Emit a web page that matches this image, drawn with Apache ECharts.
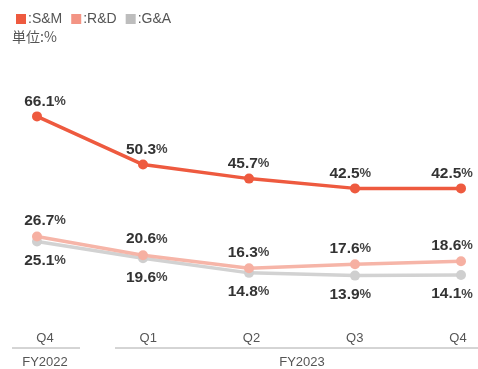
<!DOCTYPE html>
<html>
<head>
<meta charset="utf-8">
<script src="https://cdn.jsdelivr.net/npm/echarts@6/dist/echarts.min.js"></script>
<style>html,body{margin:0;padding:0;background:#fff;}#c{width:478px;height:369px;}</style>
</head>
<body>
<div id="c"></div>
<script>
const quarters = ['Q4', 'Q1', 'Q2', 'Q3', 'Q4'];
const fiscalYears = ['FY2022', 'FY2023'];
const smValues = [66.1, 50.3, 45.7, 42.5, 42.5];
const rdValues = [26.7, 20.6, 16.3, 17.6, 18.6];
const gaValues = [25.1, 19.6, 14.8, 13.9, 14.1];
const seriesNames = [':S&M', ':R&D', ':G&A'];
const unitText = '単位:%';

const FONT = 'Liberation Sans, Arial, sans-serif';
const labelRich = {
  v: { fontFamily: FONT, fontSize: 15.5, fontWeight: 'bold', color: '#333' },
  p: { fontFamily: FONT, fontSize: 13, fontWeight: 'bold', color: '#444' }
};
const fmt = p => '{v|' + p.value.toFixed(1) + '}{p|%}';

function lineSeries(name, data, lineColor, dotColor, width, z) {
  return {
    name: name, type: 'line', data: data,
    xAxisIndex: 0, yAxisIndex: 0,
    symbol: 'circle', symbolSize: 10,
    lineStyle: { color: lineColor, width: width },
    itemStyle: { color: dotColor },
    label: { show: false },
    z: z
  };
}
function labelSeries(data, pos, dist) {
  return {
    type: 'line', data: data, xAxisIndex: 2, yAxisIndex: 2,
    symbol: 'circle', symbolSize: 10, showSymbol: true,
    itemStyle: { color: 'rgba(0,0,0,0)' }, lineStyle: { width: 0, color: 'rgba(0,0,0,0)' },
    label: { show: true, position: pos, distance: dist, formatter: fmt, rich: labelRich },
    silent: true, z: 5
  };
}

const chart = echarts.init(document.getElementById('c'));
chart.setOption({
  animation: false,
  backgroundColor: '#fff',
  legend: {
    left: 11, top: 7, itemWidth: 10, itemHeight: 10, itemGap: 9,
    icon: 'rect',
    textStyle: { fontFamily: FONT, fontSize: 14, color: '#555', padding: [0, 0, 0, -3] },
    data: [
      { name: seriesNames[0], itemStyle: { color: '#EE5A3F' } },
      { name: seriesNames[1], itemStyle: { color: '#F39484' } },
      { name: seriesNames[2], itemStyle: { color: '#BDBDBD' } }
    ]
  },
  graphic: [
    { type: 'text', left: 12, top: 30, style: { text: unitText, font: '14px "Noto Sans CJK JP", sans-serif', fill: '#555' } },
    { type: 'line', shape: { x1: 12, y1: 348, x2: 80, y2: 348 }, style: { stroke: '#aaa', lineWidth: 1 } },
    { type: 'line', shape: { x1: 115, y1: 348, x2: 478, y2: 348 }, style: { stroke: '#aaa', lineWidth: 1 } },
    { type: 'text', x: 45, y: 362, style: { text: fiscalYears[0], font: '13px ' + FONT, fill: '#555', textAlign: 'center', textVerticalAlign: 'middle' } },
    { type: 'text', x: 302, y: 362, style: { text: fiscalYears[1], font: '13px ' + FONT, fill: '#555', textAlign: 'center', textVerticalAlign: 'middle' } }
  ],
  grid: [
    { left: 37, right: 17, top: 74, bottom: 51 },
    { left: 45, right: 20, top: 74, bottom: 51 },
    { left: 45, right: 26, top: 74, bottom: 51 }
  ],
  xAxis: [
    { type: 'category', gridIndex: 0, data: quarters, boundaryGap: false,
      axisLine: { show: false }, axisTick: { show: false }, axisLabel: { show: false }, splitLine: { show: false } },
    { type: 'category', gridIndex: 1, data: quarters, boundaryGap: false,
      axisLine: { show: false }, axisTick: { show: false }, splitLine: { show: false },
      axisLabel: { show: true, margin: 14, fontFamily: FONT, fontSize: 13, color: '#555' } },
    { type: 'category', gridIndex: 2, data: quarters, boundaryGap: false, show: false }
  ],
  yAxis: [
    { type: 'value', gridIndex: 0, min: 0, max: 80, show: false },
    { type: 'value', gridIndex: 1, min: 0, max: 80, show: false },
    { type: 'value', gridIndex: 2, min: 0, max: 80, show: false }
  ],
  series: [
    lineSeries(seriesNames[2], gaValues, '#D2D2D2', '#CFCFCF', 3.5, 2),
    lineSeries(seriesNames[1], rdValues, '#F6B5A8', '#F6B0A2', 3.5, 2),
    lineSeries(seriesNames[0], smValues, '#EE5A3F', '#EE5A3F', 3.5, 3),
    labelSeries(gaValues, 'bottom', 6),
    labelSeries(rdValues, 'top', 3),
    labelSeries(smValues, 'top', 2)
  ]
});
</script>
</body>
</html>
